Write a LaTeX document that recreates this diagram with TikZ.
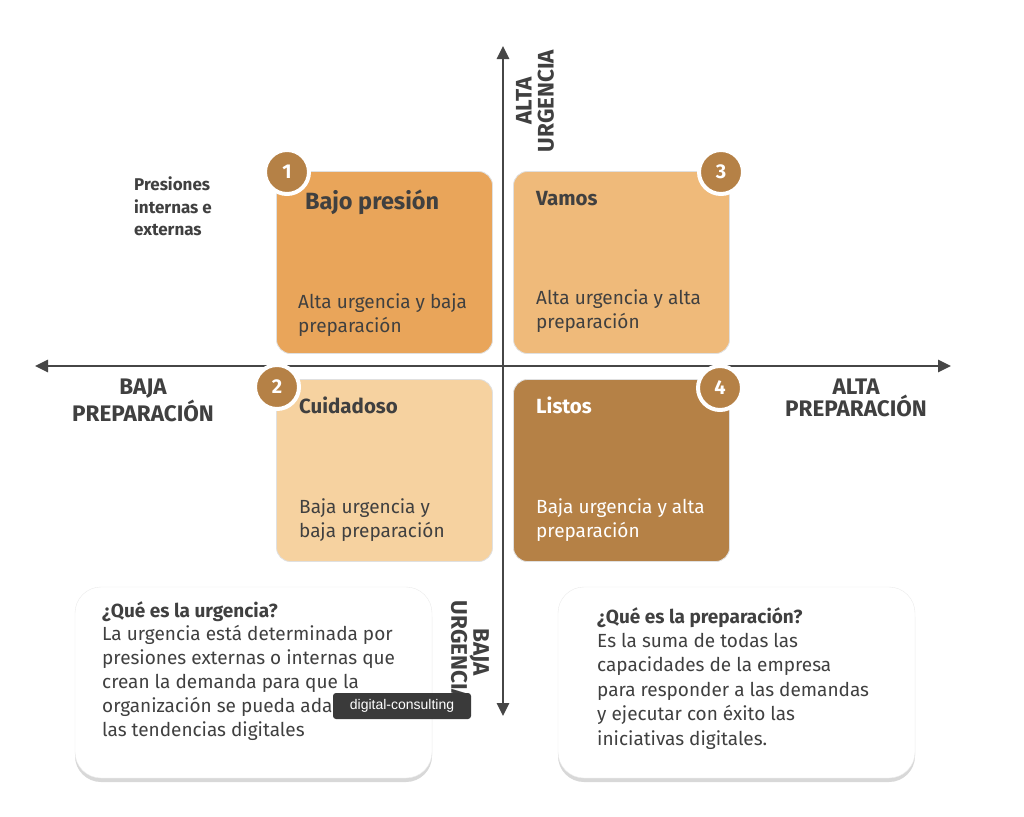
\documentclass[tikz,border=0pt]{standalone}
\usepackage{fontspec}
\setmainfont{Fira Sans}
\newfontfamily\tipfont{Liberation Sans}
\usetikzlibrary{arrows.meta, positioning, shadows}

\definecolor{quadA}{RGB}{233,165,90}
\definecolor{quadB}{RGB}{246,210,160}
\definecolor{quadC}{RGB}{239,186,122}
\definecolor{quadD}{RGB}{181,129,70}
\definecolor{ink}{RGB}{64,64,64}
\definecolor{axisgray}{RGB}{70,70,70}
\definecolor{tipgray}{RGB}{58,58,58}

\tikzset{
  axisline/.style={draw=axisgray, line width=2.6pt, >={Triangle[length=13pt, width=12pt]}, <->},
  quad/.style={draw=black!12, line width=0.8pt, rounded corners=14pt, minimum width=216pt, minimum height=182pt, inner sep=0pt},
  numdot/.style={circle, fill=quadD, draw=white, line width=4pt, minimum size=44pt, inner sep=0pt, text=white, font=\bfseries\fontsize{20}{20}\selectfont},
  qtitle/.style={anchor=base west, inner sep=0pt, text=ink, font=\bfseries\fontsize{20.5}{24}\selectfont},
  qdesc/.style={anchor=north west, inner sep=0pt, align=left, text=ink, font=\fontsize{19}{24}\selectfont},
  axislabel/.style={inner sep=0pt, align=center, text=ink, font=\bfseries\fontsize{22.5}{22}\selectfont},
  infobox/.style={fill=white, draw=black!8, rounded corners=26pt, minimum width=357pt, minimum height=191pt, drop shadow={shadow xshift=0pt, shadow yshift=-4pt, opacity=0.25, fill=black!60}},
  infotext/.style={anchor=north west, inner sep=0pt, align=left, text=ink, font=\fontsize{19}{23.8}\selectfont},
  tipbox/.style={fill=tipgray, text=white, rounded corners=3pt, minimum width=138pt, minimum height=26pt, inner sep=0pt, font=\tipfont\fontsize{14}{14}\selectfont}
}

\begin{document}
\begin{tikzpicture}[x=1pt, y=-1pt]
\useasboundingbox[fill=white] (0,0) rectangle (1024,816);

% Axes
\coordinate (west) at (35,366);
\coordinate (east) at (951,366);
\coordinate (north) at (503,46);
\coordinate (south) at (503,716);
\draw[axisline] (west) -- (east);
\draw[axisline] (south) -- (north);

\node[axislabel, rotate=90] (altaU) at (535,101) {ALTA\\URGENCIA};
\node[axislabel, rotate=-90] (bajaU) at (470,652) {BAJA\\URGENCIA};
\node[axislabel, anchor=north] (bajaP) at (143,379) {BAJA\\PREPARACIÓN};
\node[axislabel, anchor=north] (altaP) at (856,379) {ALTA\\PREPARACIÓN};

\node[anchor=north west, inner sep=0pt, align=left, text=ink, font=\bfseries\fontsize{17}{22.5}\selectfont] (presiones) at (134,177) {Presiones\\internas e\\externas};

% Quadrants
\node[quad, fill=quadA] (q1) at (384.5,262.5) {};
\node[quad, fill=quadC] (q3) at (621.5,262.5) {};
\node[quad, fill=quadB] (q2) at (384.5,470.5) {};
\node[quad, fill=quadD] (q4) at (621.5,470.5) {};

\node[qtitle, font=\bfseries\fontsize{23.5}{24}\selectfont] (t1) at (305,209) {Bajo presión};
\node[qtitle] (t3) at (536,205) {Vamos};
\node[qtitle] (t2) at (299,413) {Cuidadoso};
\node[qtitle, text=white] (t4) at (536,413) {Listos};

\node[qdesc] (d1) at (298,293) {Alta urgencia y baja\\preparación};
\node[qdesc] (d3) at (536,289) {Alta urgencia y alta\\preparación};
\node[qdesc] (d2) at (299,498) {Baja urgencia y\\baja preparación};
\node[qdesc, text=white] (d4) at (536,498) {Baja urgencia y alta\\preparación};

\node[numdot] (n1) at (287,172) {1};
\node[numdot] (n3) at (721,172) {3};
\node[numdot] (n2) at (277,387) {2};
\node[numdot] (n4) at (720,388) {4};

% Info boxes
\node[infobox] (infoU) at (253.5,682.5) {};
\node[infobox] (infoP) at (736.5,682.5) {};
\node[infotext] (infoUtext) at (102,601) {{\bfseries ¿Qué es la urgencia?}\\La urgencia está determinada por\\presiones externas o internas que\\crean la demanda para que la\\organización se pueda ada\\las tendencias digitales};
\node[infotext, font=\fontsize{19}{24.4}\selectfont] (infoPtext) at (597,607) {{\bfseries ¿Qué es la preparación?}\\Es la suma de todas las\\capacidades de la empresa\\para responder a las demandas\\y ejecutar con éxito las\\iniciativas digitales.};

\node[tipbox] (tip) at (402,706) {digital-consulting};
\end{tikzpicture}
\end{document}
